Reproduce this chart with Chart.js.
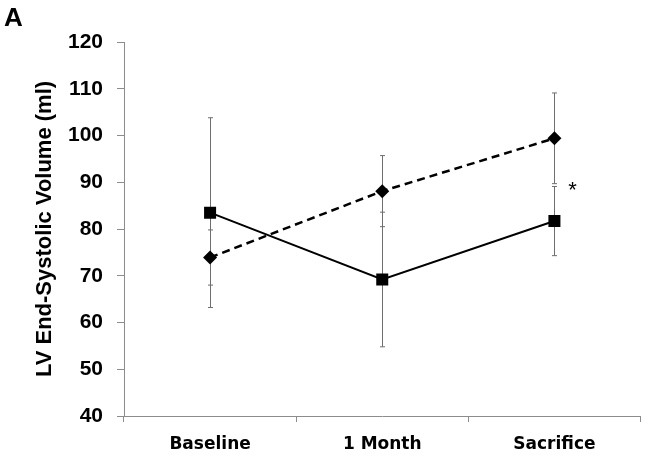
<!DOCTYPE html>
<html>
<head>
<meta charset="utf-8">
<script src="https://cdn.jsdelivr.net/npm/chart.js@4.4.0/dist/chart.umd.min.js"></script>
<style>
  html, body { margin: 0; padding: 0; background: #fff; }
  #wrap { width: 649px; height: 457px; position: relative; }
</style>
</head>
<body>
<div id="wrap"><canvas id="lvChart" width="649" height="457"></canvas></div>
<script>
const categories = ['Baseline', '1 Month', 'Sacrifice'];
const solidValues = [83.5, 69.2, 81.7];
const solidErrors = [20.3, 14.4, 7.4];
const dashedValues = [73.9, 88.1, 99.4];
const dashedErrors = [5.9, 7.6, 9.7];
const yTicks = [40, 50, 60, 70, 80, 90, 100, 110, 120];
const starIndex = 2;
const starValue = 89;

const axisGray = '#8c8c8c';
const errGray = '#6e6e6e';

const errorBars = {
  id: 'errorBars',
  beforeDatasetsDraw(chart) {
    const ctx = chart.ctx;
    const x = chart.scales.x, y = chart.scales.y;
    const sets = [[solidValues, solidErrors], [dashedValues, dashedErrors]];
    ctx.save();
    ctx.strokeStyle = errGray;
    ctx.lineWidth = 1;
    sets.forEach(([vals, errs]) => {
      vals.forEach((v, i) => {
        const px = Math.round(x.getPixelForValue(i)) + 0.5;
        const top = y.getPixelForValue(v + errs[i]);
        const bot = y.getPixelForValue(v - errs[i]);
        ctx.beginPath();
        ctx.moveTo(px, top); ctx.lineTo(px, bot);
        ctx.moveTo(px - 2.5, top); ctx.lineTo(px + 2.5, top);
        ctx.moveTo(px - 2.5, bot); ctx.lineTo(px + 2.5, bot);
        ctx.stroke();
      });
    });
    ctx.restore();
  },
  afterDraw(chart) {
    const ctx = chart.ctx;
    const x = chart.scales.x, y = chart.scales.y;
    ctx.save();
    ctx.fillStyle = '#000';
    ctx.font = 'bold 26px "Liberation Sans", Arial, sans-serif';
    ctx.textBaseline = 'alphabetic';
    ctx.fillText('A', 4, 26);
    ctx.font = '22px "Liberation Sans", Arial, sans-serif';
    ctx.textAlign = 'center';
    ctx.textBaseline = 'middle';
    ctx.fillText('*', x.getPixelForValue(starIndex) + 18, y.getPixelForValue(starValue) + 4);
    ctx.restore();
  }
};

new Chart(document.getElementById('lvChart').getContext('2d'), {
  type: 'line',
  data: {
    labels: categories,
    datasets: [
      {
        label: 'Solid',
        data: solidValues,
        borderColor: '#000',
        backgroundColor: '#000',
        borderWidth: 2,
        pointStyle: 'rect',
        pointRadius: 8.5,
        pointBorderWidth: 0,
        tension: 0
      },
      {
        label: 'Dashed',
        data: dashedValues,
        borderColor: '#000',
        backgroundColor: '#000',
        borderWidth: 2.5,
        borderDash: [8, 5],
        pointStyle: 'rectRot',
        pointRadius: 7,
        pointBorderWidth: 0,
        tension: 0
      }
    ]
  },
  options: {
    responsive: false,
    animation: false,
    events: [],
    layout: { padding: { top: 42, right: 7, bottom: 0, left: 0 } },
    plugins: { legend: { display: false }, tooltip: { enabled: false } },
    scales: {
      x: {
        type: 'category',
        offset: true,
        grid: { offset: true, drawOnChartArea: false, color: axisGray, tickLength: 6 },
        border: { color: axisGray, width: 1 },
        ticks: {
          color: '#000',
          padding: 12,
          font: { family: '"DejaVu Sans", sans-serif', weight: 'bold', size: 17 }
        },
        afterFit(scale) { scale.height = 41; }
      },
      y: {
        min: 40,
        max: 120,
        afterBuildTicks(scale) { scale.ticks = yTicks.map(v => ({ value: v })); },
        grid: { drawOnChartArea: false, color: axisGray, tickLength: 7 },
        border: { color: axisGray, width: 1 },
        ticks: {
          color: '#000',
          padding: 14,
          font: { family: '"Liberation Sans", Arial, sans-serif', weight: 'bold', size: 21 }
        },
        title: {
          display: true,
          text: 'LV End-Systolic Volume (ml)',
          color: '#000',
          padding: { top: 32, bottom: 0 },
          font: { family: '"Liberation Sans", Arial, sans-serif', weight: 'bold', size: 22 }
        },
        afterFit(scale) { scale.width = 124; }
      }
    }
  },
  plugins: [errorBars]
});
</script>
</body>
</html>
